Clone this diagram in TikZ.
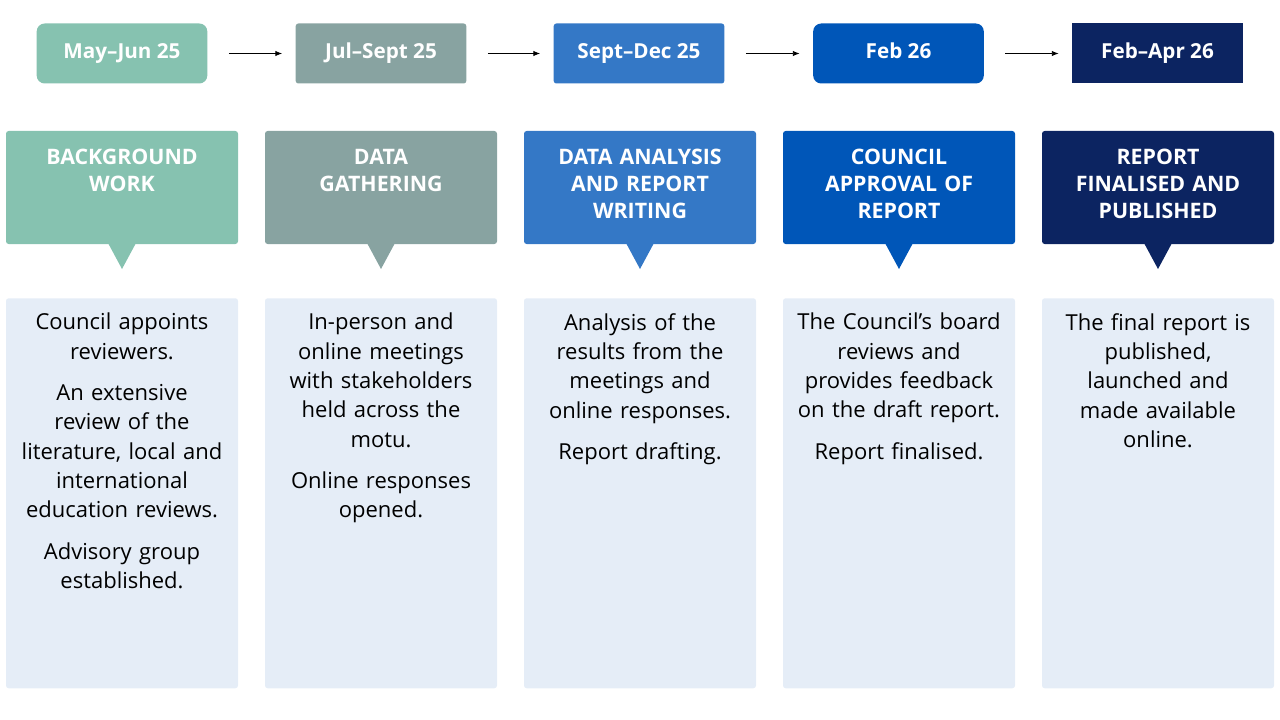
\documentclass[tikz,border=0pt]{standalone}
\usepackage{fontspec}
\setmainfont{Open Sans}
\usetikzlibrary{positioning,arrows.meta}
\definecolor{cOne}{HTML}{86C2B0}
\definecolor{cTwo}{HTML}{88A3A1}
\definecolor{cThree}{HTML}{3478C6}
\definecolor{cFour}{HTML}{0056B8}
\definecolor{cFive}{HTML}{0C2461}
\definecolor{pale}{HTML}{E5EDF7}
\tikzset{
  datebox/.style={minimum width=128pt, minimum height=45pt, text=white, inner sep=0pt,
    font=\fontsize{15.5}{18}\selectfont\bfseries},
  headbox/.style={minimum width=174pt, minimum height=85pt, text=white, inner sep=0pt},
  headtext/.style={text=white, align=center, text width=170pt, inner sep=0pt,
    font=\fontsize{16}{20.3}\selectfont\bfseries},
  bodybox/.style={fill=pale, rounded corners=2pt, minimum width=174pt, minimum height=292.5pt, inner sep=0pt},
  bodytext/.style={align=center, text width=160pt, inner sep=0pt,
    font=\fontsize{16.5}{22}\selectfont},
  stepline/.style={-{Latex[length=5pt,width=4pt]}, line width=0.6pt},
}
\newcommand{\gap}{\par\vspace{9pt}}
\begin{document}
\begin{tikzpicture}[x=0.75pt,y=-0.75pt]
\useasboundingbox (0,0) rectangle (1280,720);
% dates
\node[datebox, fill=cOne, rounded corners=6pt] (d1) at (122,53.5) {May–Jun 25};
\node[datebox, fill=cTwo, rounded corners=2pt] (d2) at (381,53.5) {Jul–Sept 25};
\node[datebox, fill=cThree, rounded corners=2pt] (d3) at (639,53.5) {Sept–Dec 25};
\node[datebox, fill=cFour, rounded corners=6pt] (d4) at (898.5,53.5) {\raisebox{4pt}{Feb 26}};
\node[datebox, fill=cFive] (d5) at (1157.5,53.5) {Feb–Apr 26};
\draw[stepline] ([xshift=16pt]d1.east) -- ([xshift=-10pt]d2.west);
\draw[stepline] ([xshift=16pt]d2.east) -- ([xshift=-10pt]d3.west);
\draw[stepline] ([xshift=16pt]d3.east) -- ([xshift=-10pt]d4.west);
\draw[stepline] ([xshift=16pt]d4.east) -- ([xshift=-10pt]d5.west);
% headers with pointers
\foreach \col/\cx in {cOne/122, cTwo/381, cThree/640, cFour/899, cFive/1158}{
  \fill[\col, rounded corners=2pt] (\cx-116,131) rectangle (\cx+116,244);
  \fill[\col] (\cx-14,243) -- (\cx+14,243) -- (\cx,269) -- cycle;
}
\node[headtext, anchor=north] (h1) at (122,149) {BACKGROUND\\WORK};
\node[headtext, anchor=north] (h2) at (381,149) {DATA\\GATHERING};
\node[headtext, anchor=north] (h3) at (640,149) {DATA ANALYSIS\\AND REPORT\\WRITING};
\node[headtext, anchor=north] (h4) at (899,149) {COUNCIL\\APPROVAL OF\\REPORT};
\node[headtext, anchor=north] (h5) at (1158,149) {REPORT\\FINALISED AND\\PUBLISHED};
% bodies
\node[bodybox, anchor=north] (b1) at (122,298) {};
\node[bodybox, anchor=north] (b2) at (381,298) {};
\node[bodybox, anchor=north] (b3) at (640,298) {};
\node[bodybox, anchor=north] (b4) at (899,298) {};
\node[bodybox, anchor=north] (b5) at (1158,298) {};
\node[bodytext, anchor=north] (t1) at (122,313) {Council appoints\\reviewers.\gap
  An extensive\\review of the\\literature, local and\\international\\education reviews.\gap
  Advisory group\\established.};
\node[bodytext, anchor=north] (t2) at (381,313) {In-person and\\online meetings\\with stakeholders\\held across the\\motu.\gap
  Online responses\\opened.};
\node[bodytext, anchor=north] (t3) at (640,313) {Analysis of the\\results from the\\meetings and\\online responses.\gap
  Report drafting.};
\node[bodytext, anchor=north] (t4) at (899,313) {The Council’s board\\reviews and\\provides feedback\\on the draft report.\gap
  Report finalised.};
\node[bodytext, anchor=north] (t5) at (1158,313) {The final report is\\published,\\launched and\\made available\\online.};
\end{tikzpicture}
\end{document}
